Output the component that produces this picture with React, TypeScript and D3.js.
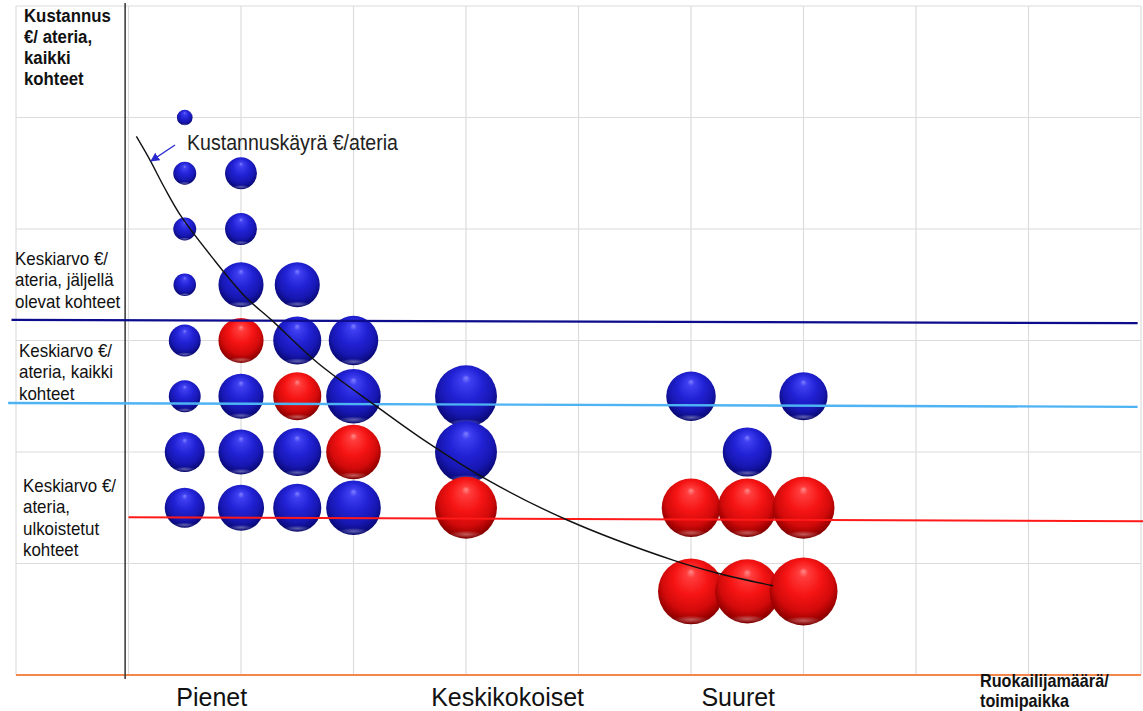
import { useMemo } from 'react';
import * as d3 from 'd3';

// Kuplat: x = sarake, y = kustannus €/ateria (suhteellinen), koko, ulkoistettu (punainen)
const bubbleX = [
  0.5, 0.5, 0.5, 0.5, 0.5, 0.5, 0.5, 0.5,
  1, 1, 1, 1, 1, 1, 1,
  1.5, 1.5, 1.5, 1.5, 1.5,
  2, 2, 2, 2,
  3, 3, 3,
  5, 5, 5,
  5.5, 5.5, 5.5,
  6, 6, 6,
];
const bubbleY = [
  10, 9, 8, 7, 6, 5, 4, 3,
  9, 8, 7, 6, 5, 4, 3,
  7, 6, 5, 4, 3,
  6, 5, 4, 3,
  5, 4, 3,
  5, 3, 1.5,
  4, 3, 1.5,
  5, 3, 1.5,
];
const bubbleSize = [
  5.3, 11.4, 11.4, 11, 22, 22, 34.6, 34.6,
  22, 22, 44, 44, 44, 44, 46,
  44, 50, 50, 50, 50,
  53, 64.5, 64.5, 64.5,
  83, 83, 83,
  53, 74, 94,
  52, 74, 89,
  50, 83, 100,
];
const bubbleOutsourced = [
  false, false, false, false, false, false, false, false,
  false, false, false, true, false, false, false,
  false, false, true, false, false,
  false, false, true, false,
  false, false, true,
  false, true, true,
  false, true, true,
  false, true, true,
];

// Kustannuskäyrä
const curvePoints: [number, number][] = [
  [0.07, 9.66], [0.19, 9.24], [0.32, 8.74], [0.47, 8.22], [0.74, 7.5],
  [1.04, 6.78], [1.27, 6.37], [1.68, 5.6], [2.19, 4.84], [2.6, 4.25],
  [3.19, 3.5], [3.9, 2.78], [4.84, 2.06], [5.23, 1.83], [5.73, 1.6],
];

// Keskiarvoviivat (alku- ja loppupiste)
const avgRemaining: [number, number][] = [[-1.04, 6.37], [8.97, 6.31]];
const avgAll: [number, number][] = [[-1.07, 4.88], [8.97, 4.81]];
const avgOutsourced: [number, number][] = [[0, 2.83], [9.02, 2.76]];

const groupLabels = ['Pienet', 'Keskikokoiset', 'Suuret'];
const groupLabelX = [0.74, 3.37, 5.42];

const yTitle = ['Kustannus', '€/ ateria,', 'kaikki', 'kohteet'];
const xTitle = ['Ruokailijamäärä/', 'toimipaikka'];
const labelRemaining = ['Keskiarvo €/', 'ateria, jäljellä', 'olevat kohteet'];
const labelAll = ['Keskiarvo €/', 'ateria, kaikki', 'kohteet'];
const labelOutsourced = ['Keskiarvo €/', 'ateria,', 'ulkoistetut', 'kohteet'];

const xTicks = d3.range(-1, 10, 1);
const yTicks = d3.range(0, 13, 2);

const WIDTH = 1143;
const HEIGHT = 711;
const FONT = '"Liberation Sans", Arial, sans-serif';

export default function App() {
  const x = useMemo(() => d3.scaleLinear().domain([-1, 9]).range([16, 1141]), []);
  const y = useMemo(() => d3.scaleLinear().domain([0, 12]).range([675, 6]), []);
  const r = useMemo(() => d3.scaleSqrt().domain([0, 100]).range([0, 34]), []);

  const curvePath = d3.line<[number, number]>()
    .x(d => x(d[0]))
    .y(d => y(d[1]))
    .curve(d3.curveCatmullRom.alpha(0.5))(curvePoints) || undefined;

  const straight = d3.line<[number, number]>().x(d => x(d[0])).y(d => y(d[1]));

  const bubbles = bubbleX.map((bx, i) => ({
    cx: x(bx),
    cy: y(bubbleY[i]),
    r: r(bubbleSize[i]),
    red: bubbleOutsourced[i],
  }));

  // tekstit ovat kuvassa hieman kapeampia kuin Arial, joten litistetään vaakasuunnassa
  const textBlock = (lines: string[], tx: number, firstBaseline: number, step: number, size: number, bold = false, sx = 0.95) => (
    <g transform={`translate(${tx},0) scale(${sx},1)`}>
      {lines.map((t, i) => (
        <text key={i} x={0} y={firstBaseline + i * step} fontSize={size} fontWeight={bold ? 'bold' : 'normal'} fill="#111">
          {t}
        </text>
      ))}
    </g>
  );

  return (
    <svg width={WIDTH} height={HEIGHT} style={{ position: 'absolute', left: 0, top: 0, background: '#fff' }} fontFamily={FONT}>
      <defs>
        <radialGradient id="sphere-blue" cx="50%" cy="42%" r="58%" fx="50%" fy="20%">
          <stop offset="0%" stopColor="#8080ff" />
          <stop offset="12%" stopColor="#4040f2" />
          <stop offset="45%" stopColor="#2222d6" />
          <stop offset="75%" stopColor="#1717b2" />
          <stop offset="92%" stopColor="#0c0c84" />
          <stop offset="100%" stopColor="#08086a" />
        </radialGradient>
        <radialGradient id="sphere-red" cx="50%" cy="42%" r="58%" fx="50%" fy="20%">
          <stop offset="0%" stopColor="#ff8a8a" />
          <stop offset="12%" stopColor="#ff3c3c" />
          <stop offset="45%" stopColor="#f61414" />
          <stop offset="75%" stopColor="#d20a0a" />
          <stop offset="92%" stopColor="#9c0000" />
          <stop offset="100%" stopColor="#7a0000" />
        </radialGradient>
        <radialGradient id="rim" cx="50%" cy="50%" r="50%">
          <stop offset="0%" stopColor="#fff" stopOpacity={0.35} />
          <stop offset="100%" stopColor="#fff" stopOpacity={0} />
        </radialGradient>
        <marker id="arrow" viewBox="0 0 10 10" refX="9" refY="5" markerWidth="7" markerHeight="7" orient="auto-start-reverse">
          <path d="M0,0 L10,5 L0,10 z" fill="#2a2ad0" />
        </marker>
      </defs>

      {/* Ruudukko */}
      <g stroke="#dcdcdc" strokeWidth={1.2}>
        {xTicks.map(t => (
          <line key={`vx${t}`} x1={x(t)} x2={x(t)} y1={y(12)} y2={y(0)} />
        ))}
        {yTicks.map(t => (
          <line key={`hy${t}`} x1={x(-1)} x2={x(9)} y1={y(t)} y2={y(t)} />
        ))}
      </g>

      {/* Akselit */}
      <line x1={x(-1)} x2={x(9)} y1={y(0)} y2={y(0)} stroke="#f5874e" strokeWidth={2} />
      <line x1={x(-0.03)} x2={x(-0.03)} y1={3} y2={y(0) + 4} stroke="#333" strokeWidth={1.5} />

      {/* Kuplat */}
      {bubbles.map((b, i) => (
        <g key={i}>
          <circle cx={b.cx} cy={b.cy} r={b.r} fill={b.red ? 'url(#sphere-red)' : 'url(#sphere-blue)'} />
          <ellipse cx={b.cx} cy={b.cy + b.r * 0.86} rx={b.r * 0.55} ry={b.r * 0.12} fill="url(#rim)" />
        </g>
      ))}

      {/* Keskiarvoviivat */}
      <path d={straight(avgRemaining) || undefined} stroke="#0c0c8c" strokeWidth={2.2} fill="none" />
      <path d={straight(avgAll) || undefined} stroke="#4db3f3" strokeWidth={2.4} fill="none" />
      <path d={straight(avgOutsourced) || undefined} stroke="#ff1a1a" strokeWidth={2} fill="none" />

      {/* Kustannuskäyrä */}
      <path d={curvePath} stroke="#111" strokeWidth={1.4} fill="none" />
      <line x1={175} y1={145} x2={151} y2={161} stroke="#2a2ad0" strokeWidth={1.3} markerEnd="url(#arrow)" />
      <text x={187} y={150} fontSize={21.5} textLength={211} lengthAdjust="spacingAndGlyphs" fill="#222">
        Kustannuskäyrä €/ateria
      </text>

      {/* Tekstit */}
      {textBlock(yTitle, 24, 22, 21, 17.5, true, 0.96)}
      {textBlock(labelRemaining, 15, 265, 21.5, 18, false, 0.94)}
      {textBlock(labelAll, 19, 357, 21.5, 18, false, 0.94)}
      {textBlock(labelOutsourced, 23, 492, 21.3, 18, false, 0.94)}
      {textBlock(xTitle, 980, 687, 20, 18, true, 0.9)}

      {groupLabels.map((g, i) => (
        <text key={g} x={x(groupLabelX[i])} y={706} fontSize={25} textAnchor="middle" fill="#111">
          {g}
        </text>
      ))}
    </svg>
  );
}
